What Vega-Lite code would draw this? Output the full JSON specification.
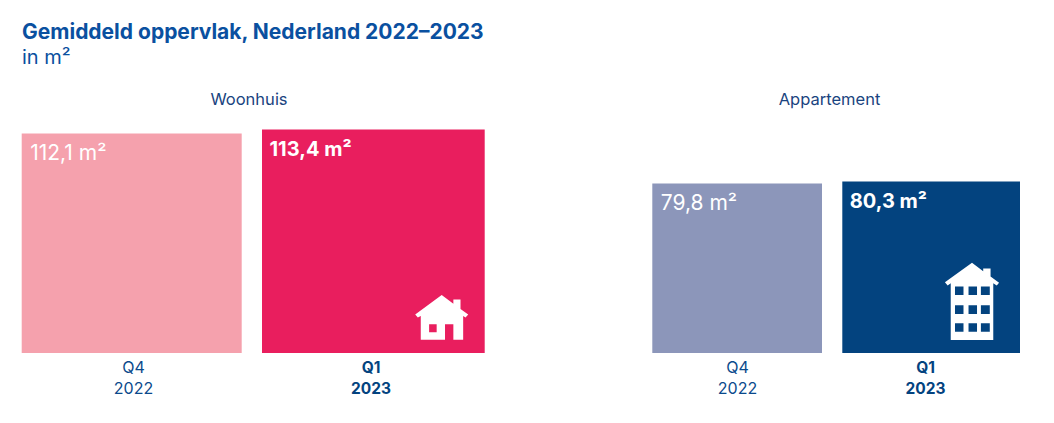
{
"$schema":"https://vega.github.io/schema/vega-lite/v6.json",
"width":1054,"height":353,
"autosize":{"type":"none"},
"padding":{"left":0,"top":70,"right":0,"bottom":0},
"background":"white",
"view":{"stroke":null},
"title":{"text":"Gemiddeld oppervlak, Nederland 2022–2023","subtitle":"in m²","anchor":"start","frame":"group","offset":2,"dx":22,"font":"Inter","fontSize":21,"fontWeight":700,"color":"#0A50A0","subtitleFont":"Inter","subtitleFontSize":20,"subtitleColor":"#0A50A0","subtitlePadding":5},
"datasets":{
"bars":[
{"type":"Woonhuis","quarter":"Q4","year":"2022","value":"112,1 m²","x0":21.7,"x1":241.7,"top":219.5,"xc":133.5},
{"type":"Woonhuis","quarter":"Q1","year":"2023","value":"113,4 m²","x0":262,"x1":484.7,"top":223.5,"xc":371},
{"type":"Appartement","quarter":"Q4","year":"2022","value":"79,8 m²","x0":652.3,"x1":822,"top":169.5,"xc":737.5},
{"type":"Appartement","quarter":"Q1","year":"2023","value":"80,3 m²","x0":842.3,"x1":1020,"top":171.5,"xc":925.5}
],
"heads":[{"label":"Woonhuis","x":249,"y":253},{"label":"Appartement","x":829.5,"y":253}]
},
"data":{"name":"bars"},
"encoding":{},
"layer":[
{"mark":{"type":"rect"},
"encoding":{
"x":{"field":"x0","type":"quantitative","scale":{"domain":[0,1054],"nice":false,"zero":false},"axis":null},
"x2":{"field":"x1"},
"y":{"field":"top","type":"quantitative","scale":{"domain":[-70,283],"nice":false,"zero":false},"axis":null},
"y2":{"datum":0},
"color":{"field":"fillKey","type":"nominal","scale":{"domain":["Woonhuis Q4","Woonhuis Q1","Appartement Q4","Appartement Q1"],"range":["#F5A1AD","#E91E5E","#8C96BA","#03437F"]},"legend":null}
},
"transform":[{"calculate":"datum.type + ' ' + datum.quarter","as":"fillKey"}]},
{"transform":[{"filter":"datum.quarter==='Q4'"}],
"mark":{"type":"text","align":"left","baseline":"middle","dx":8.5,"dy":20,"font":"Inter","fontSize":21,"color":"white"},
"encoding":{"x":{"field":"x0","type":"quantitative"},"y":{"field":"top","type":"quantitative"},"text":{"field":"value"}}},
{"transform":[{"filter":"datum.quarter==='Q1'"}],
"mark":{"type":"text","align":"left","baseline":"middle","dx":7.5,"dy":20,"font":"Inter","fontSize":20,"fontWeight":700,"color":"white"},
"encoding":{"x":{"field":"x0","type":"quantitative"},"y":{"field":"top","type":"quantitative"},"text":{"field":"value"}}},
{"transform":[{"filter":"datum.quarter==='Q4'"}],
"mark":{"type":"text","align":"center","baseline":"middle","dy":15,"font":"Inter","fontSize":16,"color":"#0B4A8C"},
"encoding":{"x":{"field":"xc","type":"quantitative"},"y":{"datum":0},"text":{"field":"quarter"}}},
{"transform":[{"filter":"datum.quarter==='Q4'"}],
"mark":{"type":"text","align":"center","baseline":"middle","dy":36,"font":"Inter","fontSize":16,"color":"#0B4A8C"},
"encoding":{"x":{"field":"xc","type":"quantitative"},"y":{"datum":0},"text":{"field":"year"}}},
{"transform":[{"filter":"datum.quarter==='Q1'"}],
"mark":{"type":"text","align":"center","baseline":"middle","dy":15,"font":"Inter","fontSize":15.5,"fontWeight":700,"color":"#03437F"},
"encoding":{"x":{"field":"xc","type":"quantitative"},"y":{"datum":0},"text":{"field":"quarter"}}},
{"transform":[{"filter":"datum.quarter==='Q1'"}],
"mark":{"type":"text","align":"center","baseline":"middle","dy":36,"font":"Inter","fontSize":15.5,"fontWeight":700,"color":"#03437F"},
"encoding":{"x":{"field":"xc","type":"quantitative"},"y":{"datum":0},"text":{"field":"year"}}},
{"data":{"name":"heads"},
"mark":{"type":"text","align":"center","baseline":"middle","font":"Inter","fontSize":16.5,"color":"#1A4480"},
"encoding":{"x":{"field":"x","type":"quantitative"},"y":{"field":"y","type":"quantitative"},"text":{"field":"label"}}},
{"data":{"values":[{"icon":"Woonhuis","x":441.7,"y":35.7}]},
"mark":{"type":"point","filled":true,"opacity":1,"color":"white","size":2809,"shape":"M0 -0.84L0.44 -0.51L0.44 -0.675L0.71 -0.675L0.71 -0.31L1 -0.11L0.9 0.01L0.81 -0.05L0.81 0.85L0.44 0.85L0.44 0.26L0.125 0.26L0.125 0.85L-0.79 0.85L-0.79 -0.05L-0.9 0.01L-1 -0.11ZM-0.475 0.26L-0.475 0.56L-0.19 0.56L-0.19 0.26Z"},
"encoding":{"x":{"field":"x","type":"quantitative"},"y":{"field":"y","type":"quantitative"}}},
{"data":{"values":[{"icon":"Appartement","x":972,"y":51.7}]},
"mark":{"type":"point","filled":true,"opacity":1,"color":"white","size":5980,"shape":"M0 -1L0.29 -0.78L0.29 -0.85L0.48 -0.85L0.48 -0.64L0.7 -0.48L0.64 -0.41L0.55 -0.47L0.55 1L-0.55 1L-0.55 -0.47L-0.63 -0.41L-0.7 -0.49ZM-0.44 -0.38L-0.44 -0.16L-0.22 -0.16L-0.22 -0.38ZM-0.09 -0.38L-0.09 -0.16L0.13 -0.16L0.13 -0.38ZM0.23 -0.38L0.23 -0.16L0.46 -0.16L0.46 -0.38ZM-0.44 0.1L-0.44 0.33L-0.22 0.33L-0.22 0.1ZM-0.09 0.1L-0.09 0.33L0.13 0.33L0.13 0.1ZM0.23 0.1L0.23 0.33L0.46 0.33L0.46 0.1ZM-0.44 0.57L-0.44 0.79L-0.22 0.79L-0.22 0.57ZM-0.09 0.57L-0.09 0.79L0.13 0.79L0.13 0.57ZM0.23 0.57L0.23 0.79L0.46 0.79L0.46 0.57Z"},
"encoding":{"x":{"field":"x","type":"quantitative"},"y":{"field":"y","type":"quantitative"}}}
]
}
